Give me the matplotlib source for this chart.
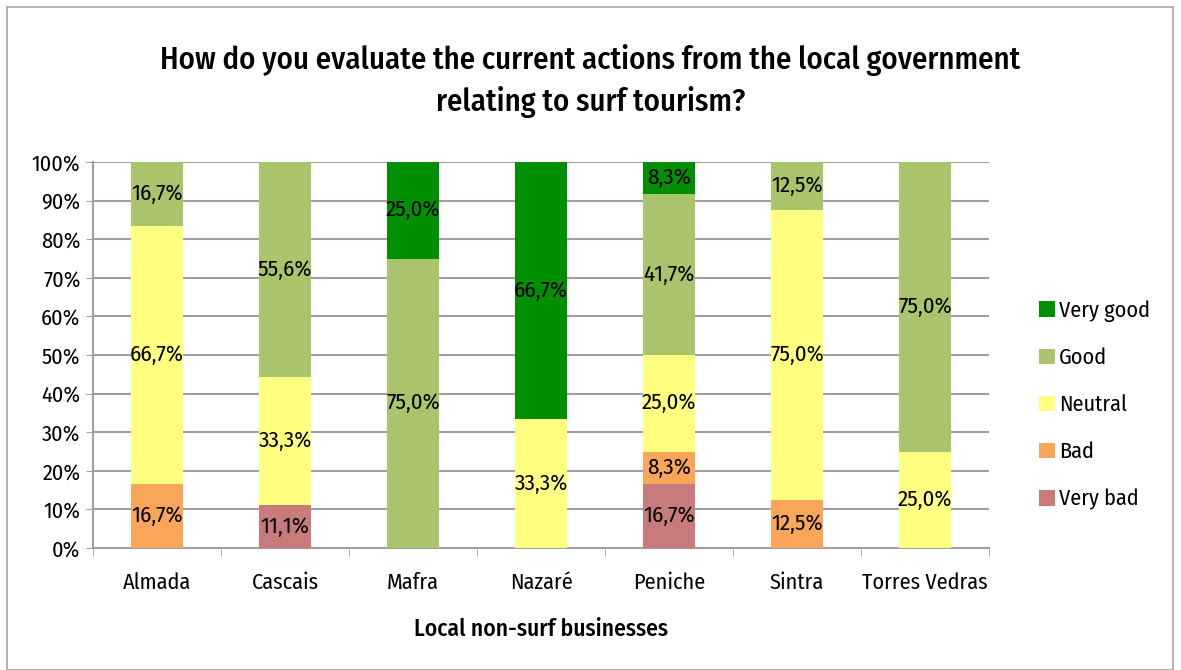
import matplotlib.pyplot as plt
from matplotlib.patches import Rectangle, Patch
import numpy as np

plt.rcParams['font.family'] = ['Fira Sans Condensed', 'DejaVu Sans']

categories = ["Almada", "Cascais", "Mafra", "Nazaré", "Peniche", "Sintra", "Torres Vedras"]
very_bad = [0.0, 11.1, 0.0, 0.0, 16.7, 0.0, 0.0]
bad = [16.7, 0.0, 0.0, 0.0, 8.3, 12.5, 0.0]
neutral = [66.7, 33.3, 0.0, 33.3, 25.0, 75.0, 25.0]
good = [16.7, 55.6, 75.0, 0.0, 41.7, 12.5, 75.0]
very_good = [0.0, 0.0, 25.0, 66.7, 8.3, 0.0, 0.0]

series = [
    ("Very bad", very_bad, "#c77b7a"),
    ("Bad", bad, "#f9a65a"),
    ("Neutral", neutral, "#ffff80"),
    ("Good", good, "#a9c46b"),
    ("Very good", very_good, "#008f00"),
]

fig = plt.figure(figsize=(11.81, 6.70), dpi=100)
fig.patches.append(Rectangle((7 / 1181, 0), 1166 / 1181, 1 - 7 / 670, transform=fig.transFigure,
                             fill=False, edgecolor="#a6a6a6", linewidth=1.2))
ax = fig.add_axes([93 / 1181, 1 - 548 / 670, 896 / 1181, 386 / 670])

x = np.arange(len(categories))
bottom = np.zeros(len(categories))
for name, vals, color in series:
    vals = np.array(vals)
    ax.bar(x, vals, bottom=bottom, width=0.4, color=color, zorder=3, label=name)
    for xi, v, b in zip(x, vals, bottom):
        if v > 0:
            ax.text(xi, b + v / 2, f"{v:.1f}%".replace(".", ","), ha="center", va="center",
                    fontsize=16.5, color="black", zorder=4)
    bottom += vals

ax.set_xlim(-0.5, len(categories) - 0.5)
ax.set_ylim(0, 100)
ax.set_yticks(np.arange(0, 101, 10))
ax.set_yticklabels([f"{v}%" for v in range(0, 101, 10)], fontsize=16)
ax.set_xticks(x)
ax.set_xticklabels(categories, fontsize=16)
ax.tick_params(axis="x", length=0, pad=17)
ax.tick_params(axis="y", length=5, color="#a0a0a0", pad=4)
ax.set_xticks(np.arange(-0.5, len(categories), 1), minor=True)
ax.tick_params(axis="x", which="minor", length=6, color="#a0a0a0")
ax.yaxis.grid(True, color="#a0a0a0", linewidth=1.5, zorder=0)
for s in ["top", "right"]:
    ax.spines[s].set_visible(False)
ax.spines["left"].set_color("#a0a0a0")
ax.spines["bottom"].set_color("#a0a0a0")
ax.spines["left"].set_linewidth(1.5)
ax.spines["bottom"].set_linewidth(1.5)

ax.set_xlabel("Local non-surf businesses", fontsize=17, fontweight="medium", labelpad=18)
fig.suptitle("How do you evaluate the current actions from the local government\nrelating to surf tourism?",
             fontsize=22.2, fontweight="medium", y=0.935, linespacing=1.42)

handles = [Patch(facecolor=c, label=n) for n, _, c in reversed(series)]
fig.legend(handles=handles, loc="center left", bbox_to_anchor=(1019 / 1181, 1 - 405 / 670),
           frameon=False, fontsize=16, handlelength=0.7, handleheight=0.7, labelspacing=1.16,
           handletextpad=0.2)

fig.savefig("out.png", dpi=100)
